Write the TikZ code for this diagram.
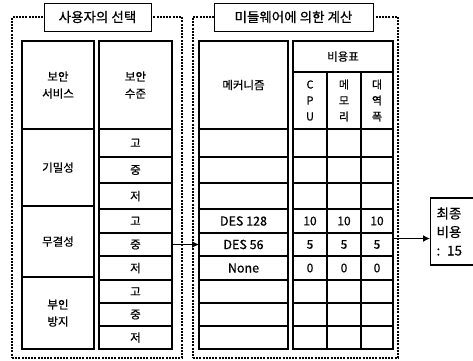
\documentclass[tikz,border=0pt]{standalone}
\usepackage{fontspec}
\setmainfont{Noto Sans CJK KR}[FakeBold=0.6]
\usetikzlibrary{positioning, arrows.meta}

\begin{document}
\begin{tikzpicture}[x=1pt, y=-1pt,
	group/.style={rectangle, draw=black, line width=1.1pt, dash pattern=on 2pt off 1.2pt},
	title/.style={rectangle, draw=black, line width=1pt, fill=white, font=\fontsize{13.5}{15}\selectfont},
	cell/.style={rectangle, draw=black, line width=1.1pt, outer sep=0pt, inner sep=0pt, font=\fontsize{11.5}{17}\selectfont, align=center},
	frame/.style={draw=black, line width=2.2pt},
	result/.style={rectangle, draw=black, line width=1.1pt, inner xsep=6pt, text width=48pt, minimum height=67pt, align=left, font=\fontsize{13.5}{18.5}\selectfont},
	conn/.style={line width=1.3pt, -{Latex[length=7pt, width=7pt]}}
]
\useasboundingbox (0,0) rectangle (473,360);
\clip (0,0) rectangle (473,360);

% user choice
\node[group, minimum width=170pt, minimum height=341pt] (choice) at (97,187.5) {};
\node[title, minimum width=107pt, minimum height=28pt] (choicetitle) at (97.5,17) {사용자의 선택};
\node[cell, minimum width=72pt, minimum height=88pt] (svchead) at (58,85) {보안\\서비스};
\node[cell, minimum width=72pt, minimum height=77pt] (svc1) at (58,167.5) {기밀성};
\node[cell, minimum width=72pt, minimum height=71pt] (svc2) at (58,241.5) {무결성};
\node[cell, minimum width=72pt, minimum height=72pt] (svc3) at (58,313) {부인\\방지};
\node[cell, minimum width=73pt, minimum height=88pt] (lvlhead) at (135.5,85) {보안\\수준};
\foreach \t/\b/\lab [count=\i] in {129/157/고,157/183/중,183/209/저,209/233/고,233/256/중,256/280/저,280/303/고,303/326/중,326/349/저}
	\node[cell, minimum width=73pt, minimum height={(\b-\t)*1pt}] (lvl\i) at (135.5,{(\t+\b)/2}) {\lab};
\draw[frame] (svchead.north west) rectangle (svc3.south east);
\draw[frame] (lvlhead.north west) rectangle (lvl9.south east);

% middleware
\node[group, minimum width=205pt, minimum height=341pt] (calc) at (295.5,187.5) {};
\node[title, minimum width=159pt, minimum height=28pt] (calctitle) at (293.5,17) {미들웨어에 의한 계산};
\node[cell, minimum width=89pt, minimum height=88pt] (mechhead) at (243.5,85) {메커니즘};
\foreach \t/\b/\lab [count=\i] in {129/157/{},157/183/{},183/209/{},209/233/DES 128,233/256/DES 56,256/280/None,280/303/{},303/326/{},326/349/{}}
	\node[cell, minimum width=89pt, minimum height={(\b-\t)*1pt}, font=\fontsize{12.5}{15}\selectfont] (mech\i) at (243.5,{(\t+\b)/2}) {\lab};
\node[cell, minimum width=100pt, minimum height=31pt] (costhead) at (343,56.5) {비용표};
\node[cell, minimum width=34pt, minimum height=57pt, font=\fontsize{11}{16}\selectfont] (cpu) at (310,100.5) {C\\P\\U};
\node[cell, minimum width=34pt, minimum height=57pt, font=\fontsize{11}{16}\selectfont] (mem) at (344,100.5) {메\\모\\리};
\node[cell, minimum width=32pt, minimum height=57pt, font=\fontsize{11}{16}\selectfont] (band) at (377,100.5) {대\\역\\폭};
\foreach \t/\b/\val [count=\i] in {129/157/{},157/183/{},183/209/{},209/233/10,233/256/5,256/280/0,280/303/{},303/326/{},326/349/{}}
	\foreach \c/\cx/\w in {1/310/34,2/344/34,3/377/32}
		\node[cell, minimum width=\w pt, minimum height={(\b-\t)*1pt}, font=\fontsize{12}{14}\selectfont] (cost\i\c) at (\cx,{(\t+\b)/2}) {\val};
\draw[frame] (mechhead.north west) rectangle (mech9.south east);
\draw[frame] (costhead.north west) rectangle (cost93.south east);

% result
\node[result, anchor=west] (final) at (430,231.5) {최종\\비용\\: 15};

\draw[conn] (lvl5.east) -- (mech5.west);
\draw[conn] ([yshift=6pt]cost53.east) -- ([yshift=6pt]cost53.east -| final.west);
\end{tikzpicture}
\end{document}
